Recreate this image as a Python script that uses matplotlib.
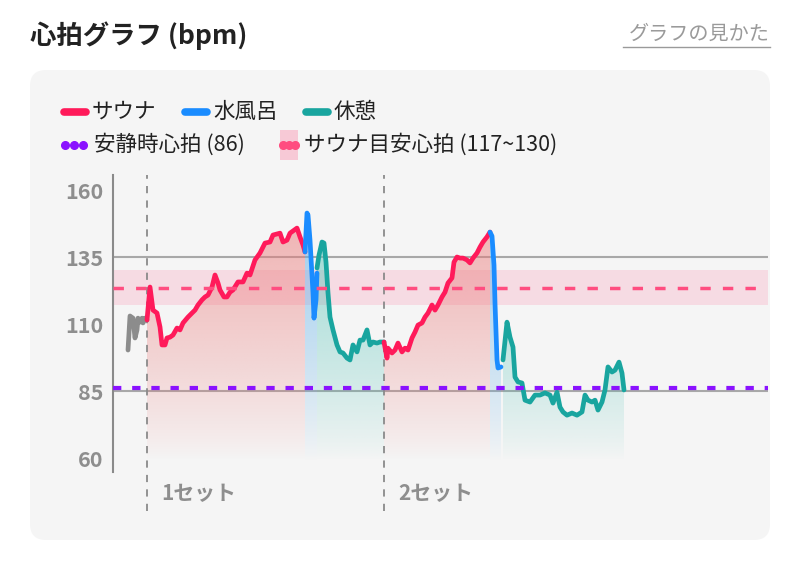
import numpy as np
import matplotlib
matplotlib.use('Agg')
import matplotlib.pyplot as plt
from matplotlib.patches import FancyBboxPatch, Polygon, Rectangle

plt.rcParams['font.family'] = ['Noto Sans CJK JP', 'DejaVu Sans']

# ========= data (time in minutes, heart rate in bpm)
pre_t = [1.5, 1.7, 2.0, 2.2, 2.4, 2.5, 2.7, 2.9, 3.0, 3.2, 3.4]
pre_bpm = [100.3, 113.0, 112.2, 104.8, 107.8, 112.2, 110.7, 112.2, 110.4, 112.2, 111.5]

sauna1_t = [3.4, 3.7, 4.0, 4.4, 4.7, 4.9, 5.2, 5.4, 5.7, 6.0, 6.4, 6.7, 7.0, 7.5, 7.9,
            8.2, 8.5, 8.9, 9.2, 9.5, 9.9, 10.2, 10.5, 10.7, 11.1, 11.4, 11.7, 12.0, 12.5,
            13.0, 13.4, 13.7, 14.2, 14.7, 15.2, 15.7, 16.0, 16.7, 17.0, 17.4, 17.7, 18.4,
            18.7, 19.0, 19.2]
sauna1_bpm = [111.5, 123.8, 115.2, 114.1, 108.9, 102.2, 102.2, 104.8, 105.1, 105.9, 108.5,
              107.8, 110.4, 112.6, 114.1, 115.2, 117.1, 119.0, 120.1, 120.8, 123.8, 128.3,
              125.3, 122.7, 120.1, 120.1, 121.9, 122.7, 125.7, 125.7, 129.0, 128.3, 133.9,
              136.5, 140.2, 140.6, 143.2, 143.9, 140.6, 141.3, 143.9, 145.8, 142.5, 139.5,
              136.9]

water1_t = [19.2, 19.4, 19.5, 19.7, 20.0, 20.1, 20.3, 20.4]
water1_bpm = [136.9, 151.4, 150.7, 141.3, 121.6, 112.2, 119.0, 129.0]

rest1_t = [20.4, 20.6, 20.9, 21.1, 21.3, 21.5, 21.7, 22.0, 22.4, 22.7, 23.0, 23.4, 23.7,
           24.0, 24.4, 24.7, 25.0, 25.4, 25.7, 26.0, 26.4, 26.7, 27.1]
rest1_bpm = [130.9, 135.7, 140.6, 140.2, 133.1, 121.6, 112.6, 107.8, 102.2, 99.6, 99.2,
             97.3, 96.6, 102.2, 99.6, 104.0, 104.0, 107.8, 102.2, 103.3, 102.9, 103.3, 103.3]

sauna2_t = [27.1, 27.4, 27.5, 27.9, 28.2, 28.5, 28.9, 29.2, 29.5, 29.9, 30.2, 30.5, 30.9,
            31.2, 31.5, 31.9, 32.2, 32.5, 32.9, 33.2, 33.5, 33.9, 34.1, 34.4, 34.7, 35.0,
            35.4, 35.7, 36.0, 36.4, 36.7, 37.0, 37.4, 37.7]
sauna2_bpm = [103.3, 97.3, 101.0, 99.2, 100.3, 102.9, 99.6, 101.0, 100.3, 104.8, 107.0,
              109.6, 110.4, 112.6, 114.1, 117.1, 115.2, 117.1, 120.1, 121.9, 125.3, 127.2,
              133.1, 135.0, 134.6, 134.6, 133.9, 132.8, 134.6, 136.5, 138.7, 140.6, 142.5,
              144.3]

water2_t = [37.7, 37.9, 38.1, 38.2, 38.4, 38.5, 38.8]
water2_bpm = [144.3, 142.8, 132.0, 117.8, 96.6, 93.6, 94.0]

rest2_t = [39.0, 39.4, 39.7, 40.0, 40.2, 40.5, 40.9, 41.2, 41.7, 42.2, 42.7, 43.2, 43.7,
           44.0, 44.4, 44.7, 45.0, 45.4, 45.9, 46.4, 46.9, 47.2, 47.5, 47.9, 48.2, 48.5,
           48.9, 49.2, 49.5, 49.9, 50.2, 50.6, 50.9, 51.1]
rest2_bpm = [96.6, 110.7, 105.1, 101.4, 90.2, 88.4, 88.0, 81.6, 80.9, 83.5, 83.5, 84.3,
             83.5, 80.5, 84.6, 79.0, 77.2, 76.0, 76.8, 76.0, 77.2, 83.5, 81.6, 80.9, 81.6,
             77.9, 80.9, 85.4, 94.0, 92.1, 92.8, 95.8, 91.7, 85.4]

set_starts = [3.4, 27.1]
set_labels = ['1セット', '2セット']
resting_hr = 86
target_low, target_high = 117, 130
y_ticks = [60, 85, 110, 135, 160]
grid_vals = [135, 85]

SAUNA = '#ff1a5a'
WATER = '#1a8cff'
REST = '#19a59f'
PRE = '#8c8c8c'
PURPLE = '#8a12ff'
PINK = '#ff4d80'
GRAY_TXT = '#8e8e8e'

YLO, YHI = 54.8, 165.6
XLO, XHI = 0, 65.5

fig = plt.figure(figsize=(8, 5.64), dpi=100)
fig.patch.set_facecolor('white')

# overlay in pixel coordinates for card, title and legend
bg = fig.add_axes([0, 0, 1, 1], zorder=0)
bg.set_xlim(0, 800)
bg.set_ylim(564, 0)
bg.axis('off')
bg.add_patch(FancyBboxPatch((30, 70), 740, 470, boxstyle='round,pad=0,rounding_size=16',
                            facecolor='#f5f5f5', edgecolor='none'))
bg.text(30, 36, '心拍グラフ (bpm)', fontsize=19, fontweight='bold', color='#222222',
        va='center', ha='left')
bg.text(770, 34, 'グラフの見かた', fontsize=14.5, color='#9a9a9a', va='center', ha='right')
bg.plot([623, 770], [47, 47], color='#9a9a9a', lw=1)

# legend
leg_y1, leg_y2 = 112, 145
for x0, col, lab in [(62, SAUNA, 'サウナ'), (183, WATER, '水風呂'), (304, REST, '休憩')]:
    bg.plot([x0 + 2, x0 + 24], [leg_y1, leg_y1], color=col, lw=5.5, solid_capstyle='round')
    bg.text(x0 + 30, leg_y1, lab, fontsize=15.5, color='#222222', va='center', ha='left')
bg.plot([65, 74, 83], [leg_y2] * 3, 'o', color=PURPLE, markersize=5.5)
bg.text(94, leg_y2, '安静時心拍 (86)', fontsize=15.5, color='#222222', va='center', ha='left')
bg.add_patch(Rectangle((280, 130), 18, 30, facecolor='#f7c9d6', edgecolor='none'))
bg.plot([283, 289, 295], [leg_y2] * 3, 'o', color=PINK, markersize=5.5)
bg.text(304, leg_y2, 'サウナ目安心拍 (117~130)', fontsize=15.5, color='#222222',
        va='center', ha='left')

# main chart
ax = fig.add_axes([113 / 800, 1 - 472 / 564, (768 - 113) / 800, (472 - 175) / 564], zorder=1)
ax.patch.set_alpha(0)

ax.axhspan(target_low, target_high, color=PINK, alpha=0.15, lw=0, zorder=1)
for g in grid_vals:
    ax.axhline(g, color='#a8a8a8', lw=1.5, zorder=2)
ax.axhline((target_low + target_high) / 2, color=PINK, lw=2.5, dashes=(3, 3.5), zorder=6)
ax.axhline(resting_hr, color=PURPLE, lw=3, dashes=(2, 2.6), zorder=6)


def gradient_fill(t, y, color, a_top=0.6):
    t = np.asarray(t)
    y = np.asarray(y)
    rgb = matplotlib.colors.to_rgb(color)
    n = 256
    grad = np.zeros((n, 1, 4))
    grad[:, 0, :3] = rgb
    grad[:, 0, 3] = np.clip(np.linspace(-0.04, 1, n), 0, 1) ** 0.8 * a_top
    im = ax.imshow(grad, extent=[t.min(), t.max(), YLO, YHI], origin='lower',
                   aspect='auto', zorder=3, interpolation='bilinear')
    verts = np.column_stack([np.r_[t[0], t, t[-1]], np.r_[YLO + 1, y, YLO + 1]])
    clip = Polygon(verts, closed=True, facecolor='none', edgecolor='none')
    ax.add_patch(clip)
    im.set_clip_path(clip)


gradient_fill(sauna1_t, sauna1_bpm, '#ec7878')
gradient_fill(water1_t, water1_bpm, '#5eb0ea', 0.65)
gradient_fill(rest1_t, rest1_bpm, '#4cc2b6', 0.6)
gradient_fill(sauna2_t, sauna2_bpm, '#ec7878')
gradient_fill(water2_t, water2_bpm, '#5eb0ea', 0.65)
gradient_fill(rest2_t, rest2_bpm, '#4cc2b6', 0.6)

for t, y, c in [(pre_t, pre_bpm, PRE), (sauna1_t, sauna1_bpm, SAUNA),
                (rest1_t, rest1_bpm, REST), (water1_t, water1_bpm, WATER),
                (sauna2_t, sauna2_bpm, SAUNA), (rest2_t, rest2_bpm, REST),
                (water2_t, water2_bpm, WATER)]:
    ax.plot(t, y, color=c, lw=3.4, solid_joinstyle='round', solid_capstyle='round', zorder=5)

for xs, lab in zip(set_starts, set_labels):
    ax.axvline(xs, ymin=-0.13, ymax=1, color='#8a8a8a', lw=1.3, dashes=(4, 4),
               clip_on=False, zorder=4)
    ax.text(xs + 1.4, -0.074, lab, transform=ax.get_xaxis_transform(), fontsize=15,
            fontweight='bold', color=GRAY_TXT, va='center', ha='left')

ax.set_xlim(XLO, XHI)
ax.set_ylim(YLO, YHI)
ax.set_yticks(y_ticks)
ax.set_xticks([])
ax.tick_params(axis='y', length=0, pad=7, labelsize=15.5, labelcolor=GRAY_TXT)
for lbl in ax.get_yticklabels():
    lbl.set_fontweight('bold')
for s in ['top', 'right', 'bottom']:
    ax.spines[s].set_visible(False)
ax.spines['left'].set_color('#8a8a8a')
ax.spines['left'].set_linewidth(1.5)

fig.savefig('out.png', dpi=100)
